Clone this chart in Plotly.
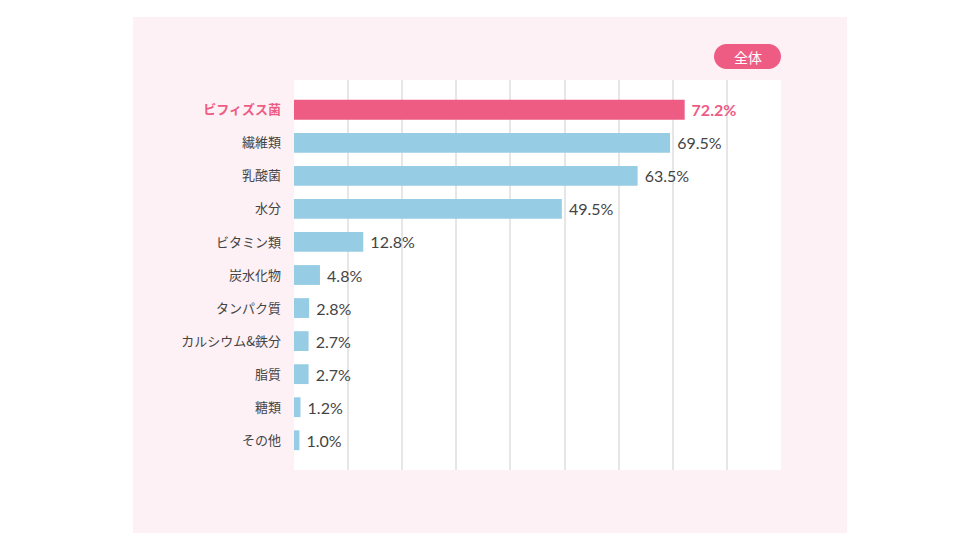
import plotly.graph_objects as go

categories = ["ビフィズス菌", "繊維類", "乳酸菌", "水分", "ビタミン類", "炭水化物",
              "タンパク質", "カルシウム&鉄分", "脂質", "糖類", "その他"]
values = [72.2, 69.5, 63.5, 49.5, 12.8, 4.8, 2.8, 2.7, 2.7, 1.2, 1.0]
value_labels = ["72.2%", "69.5%", "63.5%", "49.5%", "12.8%", "4.8%", "2.8%", "2.7%", "2.7%", "1.2%", "1.0%"]
badge_text = "全体"

PINK = "#ee5c84"
BLUE = "#97cde4"
TXT = "#444444"
FONT = "Noto Sans CJK JP"

colors = [PINK] + [BLUE] * (len(values) - 1)
ticktext = ["<b><span style='color:%s'>%s</span></b>" % (PINK, categories[0])] + categories[1:]
text_colors = [PINK] + [TXT] * (len(values) - 1)
texts = ["<b> %s</b>" % value_labels[0]] + [" " + t for t in value_labels[1:]]

fig = go.Figure(go.Bar(
    x=values, y=list(range(len(categories))), orientation="h",
    marker=dict(color=colors, line=dict(width=0)),
    width=0.6,
    text=texts, textposition="outside", cliponaxis=False,
    textfont=dict(family="Lato", size=16, color=text_colors),
    hoverinfo="skip",
))

OFF = 8  # page body margin offset
L, T = 294 - OFF, 80 - OFF
PR, PB = 781 - OFF, 470 - OFF
R, B = 980 - PR, 551 - PB
W, H = PR - L, PB - T

def px(x):
    return (x - OFF - L) / W

def py(y):
    return (PB - (y - OFF)) / H

shapes = [
    dict(type="rect", xref="paper", yref="paper", x0=px(133), x1=px(847), y0=py(533), y1=py(17),
         fillcolor="#fdf1f5", line=dict(width=0), layer="below"),
    dict(type="rect", xref="paper", yref="paper", x0=0, x1=1, y0=0, y1=1,
         fillcolor="#ffffff", line=dict(width=0), layer="below"),
]

# rounded pill badge
bx0, bx1, by0, by1 = 714, 781, 44, 69
r = (by1 - by0) / 2
k = 0.5523 * r
def P(x, y):
    return "%f,%f" % (px(x), py(y))
path = ("M " + P(bx0 + r, by0) + " L " + P(bx1 - r, by0) +
        " C " + P(bx1 - r + k, by0) + " " + P(bx1, by0 + r - k) + " " + P(bx1, by0 + r) +
        " C " + P(bx1, by0 + r + k) + " " + P(bx1 - r + k, by1) + " " + P(bx1 - r, by1) +
        " L " + P(bx0 + r, by1) +
        " C " + P(bx0 + r - k, by1) + " " + P(bx0, by0 + r + k) + " " + P(bx0, by0 + r) +
        " C " + P(bx0, by0 + r - k) + " " + P(bx0 + r - k, by0) + " " + P(bx0 + r, by0) + " Z")
shapes.append(dict(type="path", xref="paper", yref="paper", path=path,
                   fillcolor=PINK, line=dict(width=0), layer="above"))

fig.update_layout(
    width=980, height=551,
    margin=dict(l=L, r=R, t=T, b=B, pad=0),
    paper_bgcolor="#ffffff", plot_bgcolor="rgba(0,0,0,0)",
    showlegend=False,
    font=dict(family=FONT, color=TXT),
    shapes=shapes,
    annotations=[dict(xref="paper", yref="paper", x=px((bx0 + bx1) / 2), y=py((by0 + by1) / 2),
                      text=badge_text, showarrow=False, xanchor="center", yanchor="middle",
                      font=dict(family=FONT, size=14, color="#ffffff"))],
    xaxis=dict(range=[0, 90], dtick=10, tick0=0, showgrid=True, gridcolor="#e6e6e6", gridwidth=1.5,
               showticklabels=False, zeroline=False, showline=False, ticks="", fixedrange=True),
    yaxis=dict(range=[len(categories) - 1 + 0.9, -0.9], tickmode="array",
               tickvals=list(range(len(categories))), ticktext=ticktext,
               showgrid=False, zeroline=False, showline=False, ticks="",
               ticklabelstandoff=12, tickfont=dict(family=FONT, size=13, color=TXT), fixedrange=True),
)

fig.write_html("out.html")
